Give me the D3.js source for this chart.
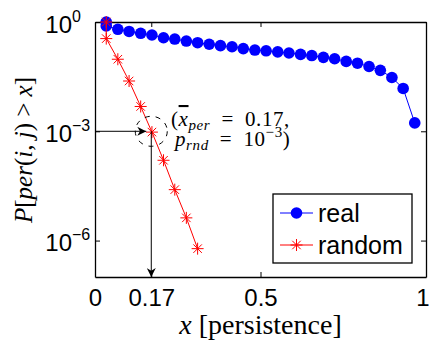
<!DOCTYPE html>
<html>
<head>
<meta charset="utf-8">
<script src="https://cdn.jsdelivr.net/npm/d3@7"></script>
<style>
body { margin: 0; background: #fff; }
svg text { fill: #000; }
</style>
</head>
<body>
<div id="chart"></div>
<script>
// persistence bins (first bin appears twice in the original figure)
const realX = [0.034, 0.034, 0.069, 0.103, 0.138, 0.172, 0.207, 0.241, 0.276, 0.310, 0.345,
	0.379, 0.414, 0.448, 0.483, 0.517, 0.552, 0.586, 0.621, 0.655, 0.690, 0.724,
	0.759, 0.793, 0.828, 0.862, 0.897, 0.931, 0.966];
const realY = [1, 0.78, 0.63, 0.55, 0.49, 0.44, 0.37, 0.34, 0.30, 0.27, 0.245,
	0.224, 0.209, 0.186, 0.170, 0.162, 0.151, 0.141, 0.129, 0.120, 0.107, 0.098,
	0.083, 0.074, 0.060, 0.047, 0.030, 0.015, 0.0017];
const randomX = [0.034, 0.034, 0.069, 0.103, 0.138, 0.172, 0.207, 0.241, 0.276, 0.310];
const randomY = [1, 0.35, 0.095, 0.024, 0.0048, 0.00095, 0.00016, 0.000025, 0.0000042, 0.0000006];
const xTicks = [0, 0.17, 0.5, 1];
const xTickLabels = ["0", "0.17", "0.5", "1"];
const yTicks = [1, 1e-3, 1e-6];
const yTickExp = ["0", "\u22123", "\u22126"];
const seriesNames = ["real", "random"];
const markX = 0.17, markP = 1e-3;

const W = 429, H = 346;
const margin = { top: 22, right: 3, bottom: 69, left: 95 };

const svg = d3.select("#chart").append("svg")
	.attr("width", W).attr("height", H);

const x = d3.scaleLinear().domain([0, 1]).range([margin.left, W - margin.right]);
const y = d3.scaleLog().domain([1e-7, 1]).range([H - margin.bottom, margin.top]);

const sans = "'Liberation Sans', Arial, sans-serif";
const serif = "'Liberation Serif', 'Times New Roman', serif";

// axes (ticks point inward, box on all sides)
const xb = svg.append("g").attr("transform", `translate(0,${y.range()[0]})`)
	.call(d3.axisBottom(x).tickValues(xTicks).tickSizeInner(-5).tickSizeOuter(0)
		.tickPadding(12).tickFormat((d, i) => xTickLabels[i]));
xb.selectAll("text").style("font-family", sans).style("font-size", "24px")
	.filter(d => d === 1).attr("text-anchor", "end").attr("x", 3);
svg.append("g").attr("transform", `translate(0,${y.range()[1]})`)
	.call(d3.axisTop(x).tickValues(xTicks).tickSizeInner(-5).tickSizeOuter(0).tickFormat(""));
const yl = svg.append("g").attr("transform", `translate(${x.range()[0]},0)`)
	.call(d3.axisLeft(y).tickValues(yTicks).tickSizeInner(-5).tickSizeOuter(0).tickFormat(""));
svg.append("g").attr("transform", `translate(${x.range()[1]},0)`)
	.call(d3.axisRight(y).tickValues(yTicks).tickSizeInner(-5).tickSizeOuter(0).tickFormat(""));
svg.selectAll(".domain").attr("stroke-width", 1.3);

yl.selectAll(".tick").each(function (d, i) {
	const g = d3.select(this);
	g.append("text").attr("x", -23).attr("y", 10).attr("text-anchor", "end")
		.style("font-family", sans).style("font-size", "24px").text("10");
	g.append("text").attr("x", -23).attr("y", -1).attr("text-anchor", "start")
		.style("font-family", sans).style("font-size", "16px").text(yTickExp[i]);
});

// axis labels
const xl = svg.append("text").attr("x", x(0.5)).attr("y", 334)
	.attr("text-anchor", "middle").style("font-family", serif).style("font-size", "28px");
xl.append("tspan").style("font-style", "italic").text("x");
xl.append("tspan").text(" [persistence]");

const ylab = svg.append("text").attr("transform", "translate(32,150) rotate(-90)")
	.attr("text-anchor", "middle").style("font-family", serif).style("font-size", "25px");
[["P", 1], ["[", 0], ["per", 1], ["(", 0], ["i", 1], [", ", 0], ["j", 1], [") > ", 0], ["x", 1], ["]", 0]]
	.forEach(([t, it]) => ylab.append("tspan").style("font-style", it ? "italic" : "normal").text(t));

// series
const line = d3.line().x(d => x(d[0])).y(d => y(d[1]));
const real = realX.map((v, i) => [v, realY[i]]);
const rnd = randomX.map((v, i) => [v, randomY[i]]);

svg.append("path").datum(real).attr("d", line).attr("fill", "none")
	.attr("stroke", "#0000ff").attr("stroke-width", 1);
svg.append("g").selectAll("circle").data(real).join("circle")
	.attr("cx", d => x(d[0])).attr("cy", d => y(d[1])).attr("r", 5.8).attr("fill", "#0000ff");

function star(g, cx, cy, s) {
	const a = s * 0.7071;
	g.append("path")
		.attr("d", `M${cx - s},${cy}H${cx + s}M${cx},${cy - s}V${cy + s}` +
			`M${cx - a},${cy - a}L${cx + a},${cy + a}M${cx - a},${cy + a}L${cx + a},${cy - a}`)
		.attr("stroke", "#ff0000").attr("stroke-width", 1).attr("fill", "none");
}

svg.append("path").datum(rnd).attr("d", line).attr("fill", "none")
	.attr("stroke", "#ff0000").attr("stroke-width", 1);
const stars = svg.append("g");
rnd.forEach(d => star(stars, x(d[0]), y(d[1]), 6));

// annotation arrows
svg.append("defs").append("marker").attr("id", "ah").attr("viewBox", "0 0 10 10")
	.attr("refX", 10).attr("refY", 5).attr("markerWidth", 9).attr("markerHeight", 9)
	.attr("markerUnits", "userSpaceOnUse").attr("orient", "auto")
	.append("path").attr("d", "M0,0L10,5L0,10L3,5Z").attr("fill", "#000");

svg.append("line").attr("x1", x(0)).attr("x2", x(markX) - 5)
	.attr("y1", y(markP)).attr("y2", y(markP))
	.attr("stroke", "#000").attr("stroke-width", 1).attr("marker-end", "url(#ah)");
svg.append("line").attr("x1", x(markX)).attr("x2", x(markX))
	.attr("y1", y(markP)).attr("y2", y(1e-7))
	.attr("stroke", "#000").attr("stroke-width", 1).attr("marker-end", "url(#ah)");
svg.append("ellipse").attr("cx", x(markX)).attr("cy", y(markP)).attr("rx", 16).attr("ry", 15)
	.attr("fill", "none").attr("stroke", "#000").attr("stroke-width", 1)
	.attr("stroke-dasharray", "5,6");

// annotation text
const ann = svg.append("g").style("font-family", serif).style("font-size", "21px")
	.style("letter-spacing", "0.6px");
const a1 = ann.append("text").attr("x", 171).attr("y", 126);
a1.append("tspan").text("(");
a1.append("tspan").style("font-style", "italic").style("text-decoration", "overline").text("x");
a1.append("tspan").style("font-style", "italic").style("font-size", "15px").attr("dy", 4).text("per");
a1.append("tspan").attr("dy", -4).text("\u2002=\u20020.17,");
const a2 = ann.append("text").attr("x", 175).attr("y", 146);
a2.append("tspan").style("font-style", "italic").text("p");
a2.append("tspan").style("font-style", "italic").style("font-size", "15px").attr("dy", 4).text("rnd");
a2.append("tspan").attr("dy", -4).text("\u2002=\u200210");
a2.append("tspan").style("font-size", "15px").attr("dy", -9).text("\u22123");
a2.append("tspan").attr("dy", 9).text(")");

// legend
const lg = svg.append("g");
lg.append("rect").attr("x", 273).attr("y", 194).attr("width", 139).attr("height", 69)
	.attr("fill", "#fff").attr("stroke", "#000").attr("stroke-width", 1.3);
seriesNames.forEach((name, i) => {
	const ly = 213 + i * 32;
	const col = i === 0 ? "#0000ff" : "#ff0000";
	lg.append("line").attr("x1", 280).attr("x2", 313).attr("y1", ly).attr("y2", ly)
		.attr("stroke", col).attr("stroke-width", 1);
	if (i === 0) lg.append("circle").attr("cx", 296.5).attr("cy", ly).attr("r", 5.8).attr("fill", col);
	else star(lg, 296.5, ly, 6);
	lg.append("text").attr("x", 318).attr("y", ly + 9).style("font-family", sans)
		.style("font-size", "25px").text(name);
});
</script>
</body>
</html>
